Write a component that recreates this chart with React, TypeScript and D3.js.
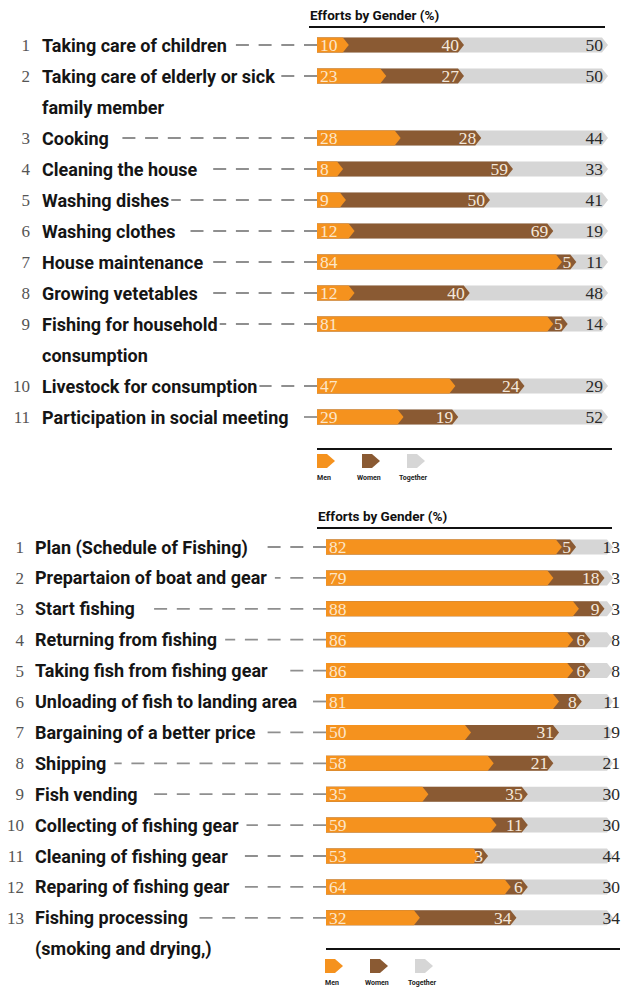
import React, { useEffect, useRef } from "react";
import * as d3 from "d3";

// ---- Data: household tasks ----
const topCategories: string[][] = [
  ["Taking care of children"],
  ["Taking care of elderly or sick", "family member"],
  ["Cooking"],
  ["Cleaning the house"],
  ["Washing dishes"],
  ["Washing clothes"],
  ["House maintenance"],
  ["Growing vetetables"],
  ["Fishing for household", "consumption"],
  ["Livestock for consumption"],
  ["Participation in social meeting"],
];
const topMen = [10, 23, 28, 8, 9, 12, 84, 12, 81, 47, 29];
const topWomen = [40, 27, 28, 59, 50, 69, 5, 40, 5, 24, 19];
const topTogether = [50, 50, 44, 33, 41, 19, 11, 48, 14, 29, 52];

// ---- Data: fishing tasks ----
const bottomCategories: string[][] = [
  ["Plan (Schedule of Fishing)"],
  ["Prepartaion of boat and gear"],
  ["Start fishing"],
  ["Returning from fishing"],
  ["Taking fish from fishing gear"],
  ["Unloading of fish to landing area"],
  ["Bargaining of a better price"],
  ["Shipping"],
  ["Fish vending"],
  ["Collecting of fishing gear"],
  ["Cleaning of fishing gear"],
  ["Reparing of fishing gear"],
  ["Fishing processing", "(smoking and drying,)"],
];
const bottomMen = [82, 79, 88, 86, 86, 81, 50, 58, 35, 59, 53, 64, 32];
const bottomWomen = [5, 18, 9, 6, 6, 8, 31, 21, 35, 11, 3, 6, 34];
const bottomTogether = [13, 3, 3, 8, 8, 11, 19, 21, 30, 30, 44, 30, 34];

const headerTitle = "Efforts by Gender (%)";
const legendLabels = ["Men", "Women", "Together"];

const COLORS = ["#F5921E", "#8A5A33", "#D6D6D6"];
const LABEL_COLORS = ["#FCE6C9", "#F4E8DC", "#2a2a2a"];

interface PanelCfg {
  categories: string[][];
  men: number[];
  women: number[];
  together: number[];
  x0: number;
  x1: number;
  y0: number;
  step: number;
  numX: number;
  textX: number;
  dashGap: number;
  headerX: number;
  headerY: number;
  ruleTop: [number, number, number];
  ruleBottom: [number, number, number];
  legendX: number[];
  legendY: number;
  legendLabelX: number[];
  togetherX: number;
}

const topCfg: PanelCfg = {
  categories: topCategories,
  men: topMen,
  women: topWomen,
  together: topTogether,
  x0: 317,
  x1: 605,
  y0: 45,
  step: 31,
  numX: 30,
  textX: 42,
  dashGap: 2,
  headerX: 310,
  headerY: 20,
  ruleTop: [309, 605, 27],
  ruleBottom: [317, 612, 449],
  legendX: [317, 362, 407],
  legendY: 461,
  legendLabelX: [317, 357, 399],
  togetherX: 603,
};

const bottomCfg: PanelCfg = {
  categories: bottomCategories,
  men: bottomMen,
  women: bottomWomen,
  together: bottomTogether,
  x0: 326,
  x1: 610,
  y0: 547,
  step: 30.9,
  numX: 24,
  textX: 35,
  dashGap: 8,
  headerX: 318,
  headerY: 521,
  ruleTop: [317, 612, 528],
  ruleBottom: [326, 620, 949],
  legendX: [325, 370, 415],
  legendY: 966,
  legendLabelX: [325, 365, 408],
  togetherX: 620,
};

const H = 15;
const TIP = 6;
const DASH = 13;
const GAP = 9.7;

function arrowPath(xs: number, xe: number, yc: number, h: number, tip: number) {
  const p = d3.path();
  p.moveTo(xs, yc - h / 2);
  p.lineTo(xe - tip / 2, yc - h / 2);
  p.lineTo(xe + tip / 2, yc);
  p.lineTo(xe - tip / 2, yc + h / 2);
  p.lineTo(xs, yc + h / 2);
  p.closePath();
  return p.toString();
}

function drawPanel(svg: d3.Selection<SVGSVGElement, unknown, null, undefined>, cfg: PanelCfg) {
  const g = svg.append("g");
  const x = d3.scaleLinear().domain([0, 100]).range([cfg.x0, cfg.x1]);

  g.append("text")
    .attr("x", cfg.headerX)
    .attr("y", cfg.headerY)
    .attr("font-family", "Roboto, 'Liberation Sans', sans-serif")
    .attr("font-weight", 700)
    .attr("font-size", 13.5)
    .attr("fill", "#111")
    .text(headerTitle);
  g.append("line")
    .attr("x1", cfg.ruleTop[0]).attr("x2", cfg.ruleTop[1])
    .attr("y1", cfg.ruleTop[2]).attr("y2", cfg.ruleTop[2])
    .attr("stroke", "#111").attr("stroke-width", 2);
  g.append("line")
    .attr("x1", cfg.ruleBottom[0]).attr("x2", cfg.ruleBottom[1])
    .attr("y1", cfg.ruleBottom[2]).attr("y2", cfg.ruleBottom[2])
    .attr("stroke", "#111").attr("stroke-width", 2);

  let slot = 0;
  cfg.categories.forEach((lines, i) => {
    const yc = cfg.y0 + slot * cfg.step;
    slot += lines.length;
    const row = g.append("g");

    row.append("text")
      .attr("x", cfg.numX)
      .attr("y", yc + 6)
      .attr("text-anchor", "end")
      .attr("font-family", "'Liberation Serif', serif")
      .attr("font-size", 17)
      .attr("fill", "#555")
      .text(String(i + 1));

    let textEnd = cfg.textX;
    lines.forEach((ln, k) => {
      const t = row.append("text")
        .attr("x", cfg.textX)
        .attr("y", yc + 6.5 + k * cfg.step)
        .attr("font-family", "Roboto, 'Liberation Sans', sans-serif")
        .attr("font-weight", 700)
        .attr("font-size", 18)
        .attr("fill", "#151515")
        .text(ln);
      if (k === 0) {
        const node = t.node() as SVGTextElement;
        textEnd = cfg.textX + node.getComputedTextLength();
      }
    });

    // dashed leader anchored at the bar start; a short partial dash allowed at the text end
    const avail = cfg.x0 - (textEnd + cfg.dashGap);
    const n = Math.max(0, Math.floor((avail + GAP) / (DASH + GAP)));
    let len = n > 0 ? n * (DASH + GAP) - GAP : 0;
    const rest = avail - len - GAP;
    if (rest >= 5) len = avail;
    if (len > 0) {
      row.append("line")
        .attr("x1", cfg.x0)
        .attr("x2", cfg.x0 - len)
        .attr("y1", yc)
        .attr("y2", yc)
        .attr("stroke", "#8f8f8f")
        .attr("stroke-width", 1.8)
        .attr("stroke-dasharray", `${DASH} ${GAP}`);
    }

    const m = cfg.men[i];
    const w = cfg.women[i];
    const tg = cfg.together[i];
    const ends = [m, m + w, m + w + tg];
    [2, 1, 0].forEach((s) => {
      row.append("path")
        .attr("d", arrowPath(x(0), x(ends[s]), yc, H, TIP))
        .attr("fill", COLORS[s]);
    });

    const valFont = "'Liberation Serif', serif";
    row.append("text")
      .attr("x", x(0) + 3)
      .attr("y", yc + 6)
      .attr("font-family", valFont)
      .attr("font-size", 17.5)
      .attr("fill", LABEL_COLORS[0])
      .text(String(m));
    row.append("text")
      .attr("x", x(m + w) - 2)
      .attr("y", yc + 6)
      .attr("text-anchor", "end")
      .attr("font-family", valFont)
      .attr("font-size", 17.5)
      .attr("fill", LABEL_COLORS[1])
      .text(String(w));
    row.append("text")
      .attr("x", cfg.togetherX)
      .attr("y", yc + 6)
      .attr("text-anchor", "end")
      .attr("font-family", valFont)
      .attr("font-size", 17.5)
      .attr("fill", LABEL_COLORS[2])
      .text(String(tg));
  });

  legendLabels.forEach((lab, i) => {
    const lx = cfg.legendX[i];
    g.append("path")
      .attr("d", arrowPath(lx, lx + 14, cfg.legendY, 14, 8))
      .attr("fill", COLORS[i]);
    g.append("text")
      .attr("x", cfg.legendLabelX[i])
      .attr("y", cfg.legendY + 19)
      .attr("font-family", "Roboto, 'Liberation Sans', sans-serif")
      .attr("font-weight", 700)
      .attr("font-size", 7)
      .attr("fill", "#222")
      .text(lab);
  });
}

export default function App() {
  const ref = useRef<SVGSVGElement | null>(null);
  useEffect(() => {
    if (!ref.current) return;
    const svg = d3.select(ref.current);
    svg.selectAll("*").remove();
    svg.append("rect").attr("width", 629).attr("height", 989).attr("fill", "#fff");
    drawPanel(svg, topCfg);
    drawPanel(svg, bottomCfg);
  }, []);
  return (
    <svg
      ref={ref}
      width={629}
      height={989}
      style={{ position: "absolute", left: 0, top: 0, display: "block" }}
    />
  );
}
